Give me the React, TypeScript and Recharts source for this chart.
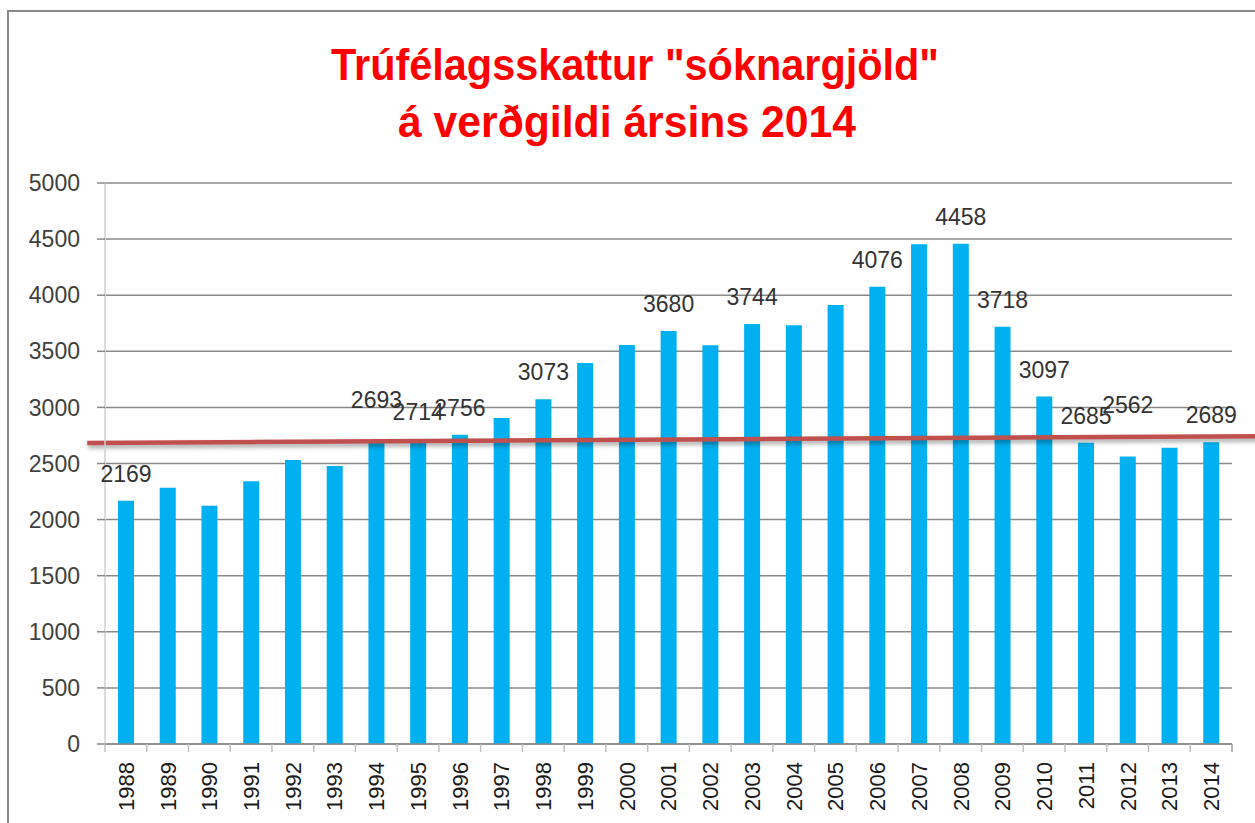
import { Bar, BarChart, CartesianGrid, LabelList, ReferenceLine, XAxis, YAxis } from "recharts";

const YEARS = [
  "1988", "1989", "1990", "1991", "1992", "1993", "1994", "1995", "1996", "1997",
  "1998", "1999", "2000", "2001", "2002", "2003", "2004", "2005", "2006", "2007",
  "2008", "2009", "2010", "2011", "2012", "2013", "2014",
];
const VALUES = [
  2169, 2284, 2124, 2341, 2531, 2478, 2693, 2714, 2756, 2905,
  3073, 3396, 3556, 3680, 3554, 3744, 3732, 3913, 4076, 4455,
  4458, 3718, 3097, 2685, 2562, 2640, 2689,
];
const LABELED_YEARS = [
  "1988", "1994", "1995", "1996", "1998", "2001", "2003", "2006",
  "2008", "2009", "2010", "2011", "2012", "2014",
];
const Y_TICKS = [0, 500, 1000, 1500, 2000, 2500, 3000, 3500, 4000, 4500, 5000];
// hand-drawn trend line, in category-slot units (0 = left edge of plot)
const TREND_X = [-0.41, 27.14];
const TREND_Y = [2683, 2745];
const TITLE_LINES = ['Trúfélagsskattur "sóknargjöld"', "á verðgildi ársins 2014"];

// labels that were nudged up by hand in the original
const LABEL_RAISE: Record<string, number> = { "1994": 15, "2012": 25 };

const FONT = "'Liberation Sans', Arial, sans-serif";
const BLUE = "#00b0f0";
const GRID = "#8a8a8a";

const data = YEARS.map((year, i) => ({ year, value: VALUES[i] }));

function YearTick(props: any) {
  const { x, y, payload, index } = props;
  const half = payload?.offset || 1127 / 27 / 2;
  const top = y - 18;
  return (
    <g>
      <line x1={x - half} x2={x - half} y1={top} y2={top + 8} stroke="#bfbfbf" strokeWidth={1.5} />
      {index === YEARS.length - 1 && (
        <line x1={x + half} x2={x + half} y1={top} y2={top + 8} stroke="#a0a0a0" strokeWidth={1.5} />
      )}
      <g transform={`translate(${x},${y})`}>
        <text
          transform="rotate(-90)"
          x={0}
          y={0}
          dy="0.36em"
          textAnchor="end"
          fontSize={22}
          fontFamily={FONT}
          fill="#1a1a1a"
        >
          {payload.value}
        </text>
      </g>
    </g>
  );
}

function ValueLabel(props: any) {
  const { x, y, width, value, index } = props;
  const year = YEARS[index];
  if (!LABELED_YEARS.includes(year)) return null;
  const raise = LABEL_RAISE[year] ?? 0;
  return (
    <text
      x={x + width / 2}
      y={y - 27 - raise}
      dominantBaseline="central"
      textAnchor="middle"
      fontSize={23}
      fontFamily={FONT}
      fill="#333333"
    >
      {value}
    </text>
  );
}

export default function App() {
  return (
    <div style={{ position: "absolute", left: 0, top: 0, width: 1255, height: 823, background: "#fff", overflow: "hidden" }}>
      <div
        style={{
          position: "absolute",
          left: 7,
          top: 10,
          width: 1260,
          height: 830,
          borderTop: "2px solid #8a8a8a",
          borderLeft: "2px solid #8a8a8a",
          boxSizing: "border-box",
        }}
      />
      <svg style={{ position: "absolute", left: 0, top: 0 }} width={1255} height={160}>
        <text
          x={635}
          y={80}
          textAnchor="middle"
          fontSize={44}
          fontWeight="bold"
          fontFamily={FONT}
          fill="#ff0000"
          textLength={608}
          lengthAdjust="spacingAndGlyphs"
        >
          {TITLE_LINES[0]}
        </text>
        <text
          x={627}
          y={137}
          textAnchor="middle"
          fontSize={44}
          fontWeight="bold"
          fontFamily={FONT}
          fill="#ff0000"
          textLength={458}
          lengthAdjust="spacingAndGlyphs"
        >
          {TITLE_LINES[1]}
        </text>
      </svg>
      <div style={{ position: "absolute", left: 0, top: 0 }}>
        <BarChart width={1255} height={823} data={data} margin={{ top: 183, right: 23, left: 25, bottom: 0 }}>
          <CartesianGrid vertical={false} stroke={GRID} strokeWidth={1.5} />
          <XAxis
            dataKey="year"
            height={79}
            interval={0}
            tickLine={false}
            tickSize={8}
            tickMargin={10}
            axisLine={{ stroke: GRID, strokeWidth: 1.5 }}
            tick={<YearTick />}
          />
          <XAxis xAxisId="t" type="number" domain={[0, 27]} allowDataOverflow hide height={0} />
          <YAxis
            width={80}
            domain={[0, 5000]}
            ticks={Y_TICKS}
            interval={0}
            tickSize={8}
            tickMargin={17}
            tickLine={{ stroke: GRID, strokeWidth: 1.5 }}
            axisLine={{ stroke: "#d0d0d0", strokeWidth: 1.5 }}
            tick={{ fontSize: 23, fontFamily: FONT, fill: "#404040" }}
          />
          <Bar dataKey="value" fill={BLUE} barSize={16} isAnimationActive={false}>
            <LabelList dataKey="value" content={<ValueLabel />} />
          </Bar>
          <ReferenceLine
            xAxisId="t"
            segment={[
              { x: TREND_X[0], y: TREND_Y[0] },
              { x: TREND_X[1], y: TREND_Y[1] },
            ]}
            ifOverflow="visible"
            stroke="#c0504d"
            strokeWidth={4.5}
            style={{ filter: "drop-shadow(1px 3px 2px rgba(0,0,0,0.35))" }}
          />
        </BarChart>
      </div>
    </div>
  );
}
